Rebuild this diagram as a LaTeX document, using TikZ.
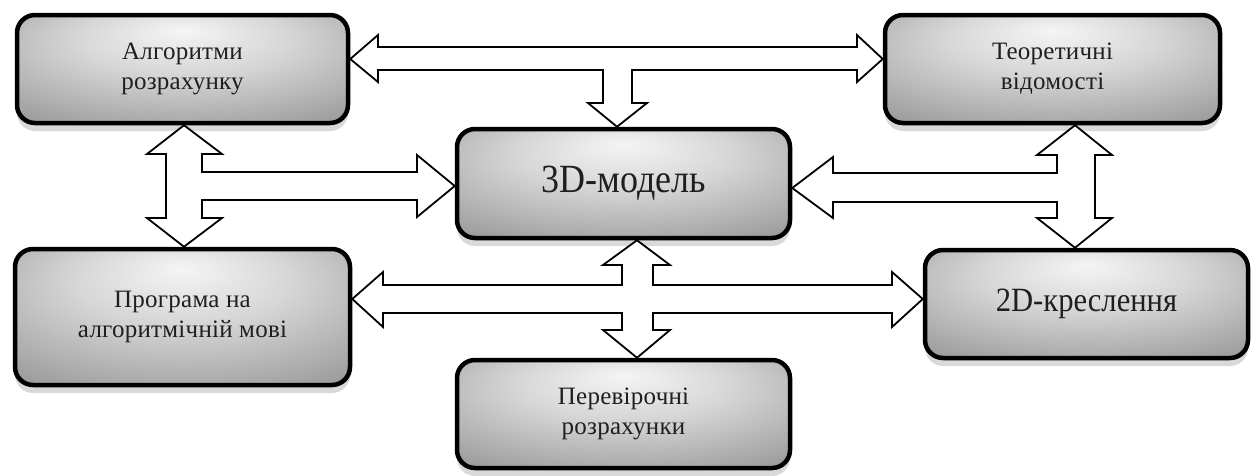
\documentclass[tikz,border=0pt]{standalone}
\usepackage{fontspec}
\setmainfont{Liberation Serif}
\usetikzlibrary{shadows}
\pgfdeclareradialshading{boxglow}{\pgfpoint{0bp}{18bp}}{color(0bp)=(black!4); color(16bp)=(black!16); color(40bp)=(black!40); color(65bp)=(black!56)}
\begin{document}
\begin{tikzpicture}[x=1pt,y=-1pt,
  box/.style={draw=black, line width=4.5pt, rounded corners=18pt, shade, shading=boxglow,
    drop shadow={shadow xshift=0pt, shadow yshift=-8pt, fill=black!15, opacity=1, draw=none},
    align=center, font=\fontsize{25}{30}\selectfont\addfontfeature{LetterSpace=1}, text=black!88, inner sep=0pt},
  bigbox/.style={box, font=\fontsize{40}{44}\selectfont\addfontfeature{FakeStretch=0.9}},
  midbox/.style={box, font=\fontsize{34}{40}\selectfont\addfontfeature{FakeStretch=0.9}},
  barrow/.style={draw=black, line width=1.8pt, fill=white, line join=miter}]
\useasboundingbox (0,0) rectangle (1252,475);
% boxes
\node[box, minimum width=331pt, minimum height=108pt] (alg) at (182.5,69) {Алгоритми\\розрахунку};
\node[box, minimum width=335pt, minimum height=108pt] (teor) at (1052.5,69) {Теоретичні\\відомості};
\node[bigbox, minimum width=333pt, minimum height=109pt] (model) at (623.5,183.5) {3D-модель};
\node[box, minimum width=335pt, minimum height=136pt] (prog) at (182.5,317) {Програма на\\алгоритмічній мові};
\node[midbox, minimum width=323pt, minimum height=108pt] (kresl) at (1086.5,304) {2D-креслення};
\node[box, minimum width=333pt, minimum height=108pt] (perev) at (623.5,414) {Перевірочні\\розрахунки};
% block arrows
% alg <-> teor, down to model
\draw[barrow] (alg.east |- 0,59) -- (378,35) -- (378,47) -- (857,47) -- (857,35) -- (teor.west |- 0,59)
  -- (857,82) -- (857,70) -- (632,70) -- (632,103) -- (647,103) -- (617,0 |- model.north)
  -- (588,103) -- (603,103) -- (603,70) -- (378,70) -- (378,82) -- cycle;
% alg <-> prog, right to model
\draw[barrow] (184,0 |- alg.south) -- (222,154) -- (202,154) -- (202,172) -- (417,172) -- (417,155)
  -- (model.west |- 0,186) -- (417,217) -- (417,200) -- (202,200) -- (202,218) -- (222,218)
  -- (184,0 |- prog.north) -- (147,218) -- (166,218) -- (166,154) -- (147,154) -- cycle;
% teor <-> kresl, left to model
\draw[barrow] (1075,0 |- teor.south) -- (1112,155) -- (1095,155) -- (1095,218) -- (1112,218)
  -- (1075,0 |- kresl.north) -- (1037,218) -- (1057,218) -- (1057,202) -- (833,202) -- (833,218)
  -- (model.east |- 0,188) -- (833,157) -- (833,173) -- (1057,173) -- (1057,155) -- (1037,155) -- cycle;
% model <-> perev, prog <-> kresl
\draw[barrow] (637,0 |- model.south) -- (670,265) -- (653,265) -- (653,285) -- (892,285) -- (892,272)
  -- (kresl.west |- 0,299) -- (892,327) -- (892,313) -- (653,313) -- (653,330) -- (670,330)
  -- (637,0 |- perev.north) -- (603,330) -- (622,330) -- (622,313) -- (383,313) -- (383,327)
  -- (prog.east |- 0,299) -- (383,272) -- (383,285) -- (622,285) -- (622,265) -- (603,265) -- cycle;
\end{tikzpicture}
\end{document}
